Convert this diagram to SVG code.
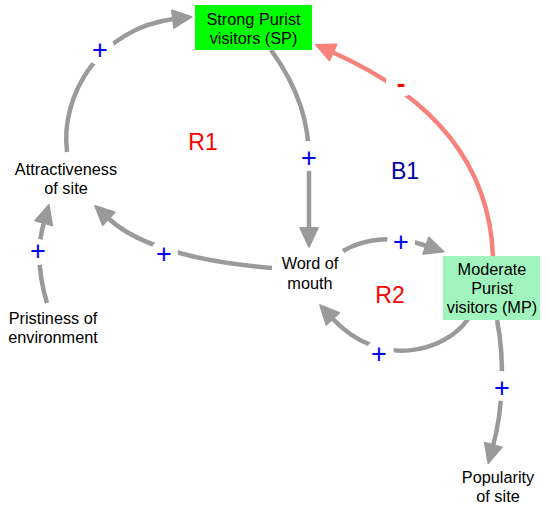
<svg xmlns="http://www.w3.org/2000/svg" width="550" height="511" viewBox="0 0 550 511">
<defs>
<style>
text{font-family:"Liberation Sans",Arial,sans-serif;}
.t{font-size:16.3px;fill:#000;text-anchor:middle;}
.loop{font-size:23px;text-anchor:middle;}
.pol{font-size:27px;text-anchor:middle;dominant-baseline:central;fill:#0000ff;}
.neg{fill:#ff0000;font-weight:bold;font-size:26px;}
.c{fill:none;stroke:#9a9a9a;stroke-width:4.5;}
.cr{fill:none;stroke:#f7827c;stroke-width:4.5;}
.gap{fill:#fff;}
</style>
<marker id="ag" markerUnits="userSpaceOnUse" markerWidth="20" markerHeight="20" refX="1" refY="0" viewBox="0 -9 18 18" orient="auto" overflow="visible">
<path d="M0,-8 L17,0 L0,8 Z" fill="#9a9a9a" stroke="#9a9a9a" stroke-width="1.5" stroke-linejoin="round"/>
</marker>
<marker id="ar" markerUnits="userSpaceOnUse" markerWidth="20" markerHeight="20" refX="1" refY="0" viewBox="0 -9 18 18" orient="auto" overflow="visible">
<path d="M0,-8 L17,0 L0,8 Z" fill="#f7827c" stroke="#f7827c" stroke-width="1.5" stroke-linejoin="round"/>
</marker>
</defs>
<rect width="550" height="511" fill="#fff"/>
<g id="connectors">
<path class="c" d="M67,152 C60,95 100,28 174,19" marker-end="url(#ag)"/>
<path class="c" d="M271,50 C300,90 309,125 309,160 L309,229" marker-end="url(#ag)"/>
<path class="c" d="M272,268 C200,262 140,248 108,218" marker-end="url(#ag)"/>
<path class="c" d="M47,303 C40,280 36,250 44,222" marker-end="url(#ag)"/>
<path class="c" d="M343,251 C365,238 395,235 427,246" marker-end="url(#ag)"/>
<path class="c" d="M468,319 C445,352 380,370 332,318" marker-end="url(#ag)"/>
<path class="cr" d="M493,257 C490,170 440,100 332,52" marker-end="url(#ar)"/>
<path class="c" d="M497,320 C505,360 503,410 493,446" marker-end="url(#ag)"/>
<circle class="gap" cx="100" cy="50" r="15"/>
<circle class="gap" cx="309" cy="156" r="15"/>
<circle class="gap" cx="164" cy="254" r="14"/>
<circle class="gap" cx="38" cy="252" r="13"/>
<circle class="gap" cx="401" cy="242" r="14"/>
<circle class="gap" cx="380" cy="353" r="14"/>
<circle class="gap" cx="401" cy="82" r="15"/>
<circle class="gap" cx="502" cy="386" r="15"/>
<text class="pol" x="100" y="50">+</text>
<text class="pol" x="309" y="158">+</text>
<text class="pol" x="164" y="254">+</text>
<text class="pol" x="38" y="251">+</text>
<text class="pol" x="401" y="242">+</text>
<text class="pol" x="379" y="354">+</text>
<text class="pol neg" x="401" y="83">-</text>
<text class="pol" x="502" y="388">+</text>
</g>
<g id="sp">
<rect x="195" y="5" width="117" height="45" fill="#00ff00"/>
<text class="t" x="253.5" y="25">Strong Purist</text>
<text class="t" x="253.5" y="44">visitors (SP)</text>
</g>
<g id="mp">
<rect x="443" y="256" width="97" height="64" fill="#a0f5be"/>
<text class="t" x="492" y="275">Moderate</text>
<text class="t" x="492" y="294">Purist</text>
<text class="t" x="492" y="313">visitors (MP)</text>
</g>
<g id="attractiveness">
<text class="t" x="66" y="175">Attractiveness</text>
<text class="t" x="66" y="194">of site</text>
</g>
<g id="pristiness">
<text class="t" x="53" y="324">Pristiness of</text>
<text class="t" x="53" y="343">environment</text>
</g>
<g id="word-of-mouth">
<text class="t" x="310" y="269">Word of</text>
<text class="t" x="310" y="289">mouth</text>
</g>
<g id="popularity">
<text class="t" x="498" y="483">Popularity</text>
<text class="t" x="498" y="502">of site</text>
</g>
<g id="loops">
<text class="loop" x="203" y="150" fill="#ff0000">R1</text>
<text class="loop" x="405" y="179" fill="#0000aa">B1</text>
<text class="loop" x="390" y="303" fill="#ff0000">R2</text>
</g>
</svg>
